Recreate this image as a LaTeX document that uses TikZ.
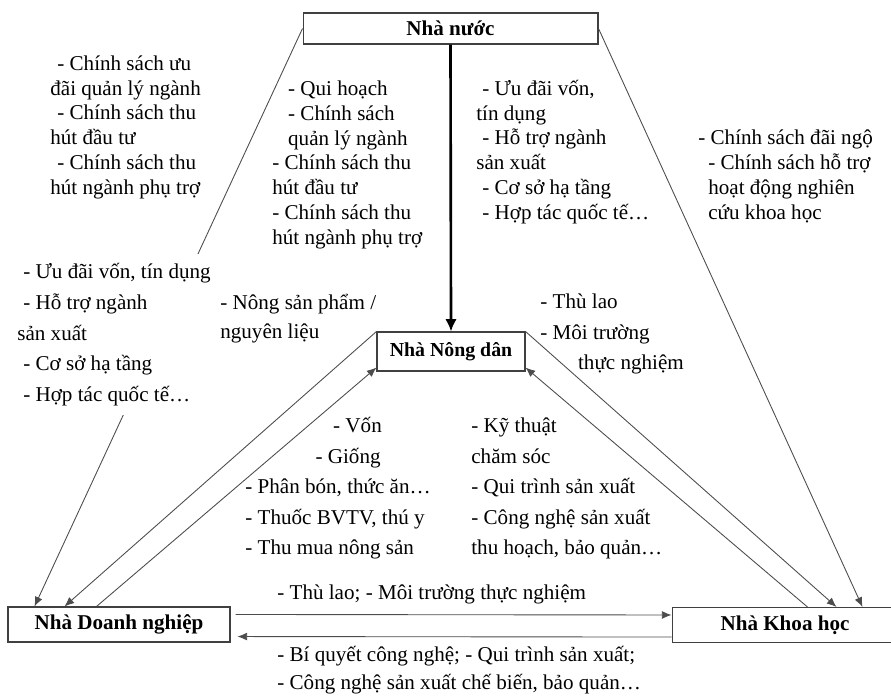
\documentclass[tikz,border=0pt]{standalone}
\usepackage{fontspec}
\setmainfont{Liberation Serif}
\usetikzlibrary{arrows.meta}
\newcommand{\shiftin}[1]{\hspace*{#1}}
\begin{document}
\begin{tikzpicture}[x=0.02cm, y=-0.02cm,
  box/.style={draw=black!75, line width=0.6pt, inner sep=0pt, font=\fontsize{12}{14}\selectfont\bfseries},
  link/.style={draw=black!70, line width=0.5pt, -{Latex[length=5.5pt,width=4.5pt]}},
  main/.style={draw=black, line width=1.5pt, -{Latex[length=7pt,width=6.5pt]}},
  note/.style={align=left, inner sep=0pt, anchor=base west, font=\fontsize{12}{14.2}\selectfont},
  wide/.style={note, font=\fontsize{12}{17.3}\selectfont}]
\useasboundingbox (0,0) rectangle (891,697);
\node[box, minimum width=5.9cm, minimum height=0.62cm] (nuoc) at (450.5,28.5) {Nhà nước};
\node[box, minimum width=2.96cm, minimum height=0.78cm, font=\fontsize{11.3}{13}\selectfont\bfseries] (nongdan) at (451,351.5) {Nhà Nông dân};
\node[box, minimum width=4.44cm, minimum height=0.7cm] (doanhnghiep) at (119,624.5) {Nhà Doanh nghiệp};
\node[box, minimum width=4.52cm, minimum height=0.7cm] (khoahoc) at (785,625) {Nhà Khoa học};
\draw[link] (nuoc.west) -- ([xshift=0.54cm]doanhnghiep.north west);
\draw[link] (nuoc.east) -- ([xshift=3.82cm]khoahoc.north west);
\draw[main] (nuoc.south) -- (nongdan.north);
\draw[link] (nongdan.north west) -- ([xshift=1.14cm]doanhnghiep.north west);
\draw[link] ([xshift=1.78cm]doanhnghiep.north west) -- ([yshift=0.08cm]nongdan.south west);
\draw[link] (nongdan.north east) -- ([xshift=3.3cm]khoahoc.north west);
\draw[link] ([xshift=2.72cm]khoahoc.north west) -- ([yshift=0.08cm]nongdan.south east);
\draw[link] ([xshift=0.1cm,yshift=-0.16cm]doanhnghiep.north east) -- ([yshift=-0.16cm]khoahoc.north west);
\draw[link] ([yshift=0.12cm]khoahoc.south west) -- ([xshift=0.14cm,yshift=0.12cm]doanhnghiep.south east);
\node[note] (nuocdn) at (50,194.8) {\shiftin{4pt}- Chính sách ưu\\ đãi quản lý ngành\\ \shiftin{4pt}- Chính sách thu\\ hút đầu tư\\ \shiftin{4pt}- Chính sách thu\\ hút ngành phụ trợ};
\node[note] (nuocnd) at (272,244.8) {\shiftin{9pt}- Qui hoạch\\ \shiftin{9pt}- Chính sách\\ \shiftin{9pt}quản lý ngành\\ - Chính sách thu\\ hút đầu tư\\ - Chính sách thu\\ hút ngành phụ trợ};
\node[note] (nuocnd2) at (476,219.8) {\shiftin{3.4pt}- Ưu đãi vốn,\\ tín dụng\\ \shiftin{3.4pt}- Hỗ trợ ngành\\ sản xuất\\ \shiftin{3.4pt}- Cơ sở hạ tầng\\ \shiftin{3.4pt}- Hợp tác quốc tế…};
\node[note] (nuockh) at (698,219.5) {- Chính sách đãi ngộ\\ \shiftin{5.7pt}- Chính sách hỗ trợ\\ \shiftin{5.7pt}hoạt động nghiên\\ \shiftin{5.7pt}cứu khoa học};
\node[wide, fill=white, inner ysep=5pt, font=\fontsize{12}{17.5}\selectfont] (nuocdn2) at (17,401.5) {\shiftin{3.4pt}- Ưu đãi vốn, tín dụng\\ \shiftin{3.4pt}- Hỗ trợ ngành\\ sản xuất\\ \shiftin{3.4pt}- Cơ sở hạ tầng\\ \shiftin{3.4pt}- Hợp tác quốc tế…};
\node[wide, font=\fontsize{12}{16.4}\selectfont] (dnnd) at (220,338.5) {- Nông sản phẩm /\\ nguyên liệu};
\node[wide] (khnd) at (540,369.5) {- Thù lao\\ - Môi trường\\ \shiftin{21.5pt}thực nghiệm};
\node[wide] (nddn) at (245,554.5) {\shiftin{50pt}- Vốn\\ \shiftin{40pt}- Giống\\ - Phân bón, thức ăn…\\ - Thuốc BVTV, thú y\\ - Thu mua nông sản};
\node[wide] (ndkh) at (471,554.5) {- Kỹ thuật\\ chăm sóc\\ - Qui trình sản xuất\\ - Công nghệ sản xuất\\ thu hoạch, bảo quản…};
\node[note] (dnkh) at (277,599.5) {- Thù lao; - Môi trường thực nghiệm};
\node[note, font=\fontsize{12}{15.9}\selectfont] (khdn) at (277,689.5) {- Bí quyết công nghệ; - Qui trình sản xuất;\\ - Công nghệ sản xuất chế biến, bảo quản…};
\end{tikzpicture}
\end{document}
